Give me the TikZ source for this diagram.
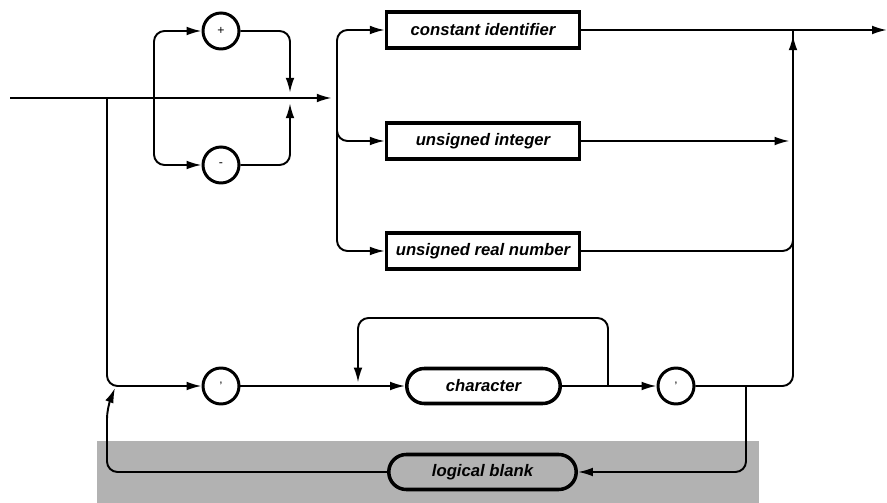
\documentclass[tikz,border=0pt]{standalone}
\usepackage{fontspec}
\setsansfont{Liberation Sans}
\usetikzlibrary{arrows.meta,shapes.misc}

\tikzset{
  rail/.style={line width=1.1pt, rounded corners=6pt},
  box/.style={draw, line width=2pt, minimum width=3.86cm, minimum height=0.73cm,
    inner sep=0pt, font=\sffamily\bfseries\itshape\fontsize{9.5}{11}\selectfont},
  pill/.style={draw, rounded rectangle, line width=2pt, minimum height=0.7cm,
    inner sep=0pt, font=\sffamily\bfseries\itshape\fontsize{9.5}{11}\selectfont},
  term/.style={draw, circle, line width=1.7pt, minimum size=0.72cm,
    inner sep=0pt, font=\sffamily\scriptsize}
}

\begin{document}
\begin{tikzpicture}[x=0.02cm, y=-0.02cm, >={Latex[length=8.5pt,width=5pt]}]
        % Zemin ve sinirlar
        \useasboundingbox (0,0) rectangle (887,503);
        \fill[gray!60] (97,441) rectangle (759,503);

        % Kutular ve daireler
        \node[term] (plus) at (221,31) {+};
        \node[term] (minus) at (221,165) {-};
        \node[box] (constid) at (483,30) {constant identifier};
        \node[box] (uint) at (483,141) {unsigned integer};
        \node[box] (ureal) at (483,251) {unsigned real number};
        \node[term] (quoteA) at (221,386) {'};
        \node[pill, minimum width=3.07cm] (charbox) at (483.5,386) {character};
        \node[term] (quoteB) at (676,386) {'};
        \node[pill, minimum width=3.75cm] (lblank) at (482.5,472) {logical blank};

        % Baglanti noktalari
        \coordinate (start) at (10,98);
        \coordinate (split) at (107,98);
        \coordinate (signsplit) at (154,98);
        \coordinate (signjoin) at (290,98);
        \coordinate (fork) at (337,98);
        \coordinate (merge) at (793,30);
        \coordinate (exit) at (887,30);
        \coordinate (loopin) at (358,386);
        \coordinate (loopout) at (608,386);
        \coordinate (blankout) at (746,386);
        \coordinate (retjoin) at (115,388);

        % Ana hat ve isaret dali
        \draw[rail,->,shorten >=3pt] (start) -- (fork);
        \draw[rail,->] (signsplit) |- (plus);
        \draw[rail,->] (signsplit) |- (minus);
        \draw[rail,->,shorten >=3pt] (plus) -| (signjoin);
        \draw[rail,->,shorten >=3pt] (minus) -| (signjoin);

        % Uc secenek
        \draw[rail,->] (fork) |- (constid);
        \draw[rail,->] (fork) |- (uint);
        \draw[rail,->] (fork) |- (ureal);
        \draw[rail,->] (constid) -- (exit);
        \draw[rail,->,shorten >=2pt] (uint) -- (uint -| merge);
        \draw[rail] (ureal) -| (merge);

        % Karakter dizisi
        \draw[rail,->] (split) |- (quoteA);
        \draw[rail,->] (quoteA) -- (charbox);
        \draw[rail,->] (charbox) -- (quoteB);
        \draw[rail,->,shorten >=2pt] (loopout) -- ++(0,-68) -| (loopin);
        \draw[rail,->,shorten >=3pt] (quoteB) -| (merge);

        % Mantiksal bosluk
        \draw[rail,->] (blankout) |- (lblank);
        \draw[rail,->] (lblank) -| (107,408) -- (retjoin);
    \end{tikzpicture}
\end{document}
